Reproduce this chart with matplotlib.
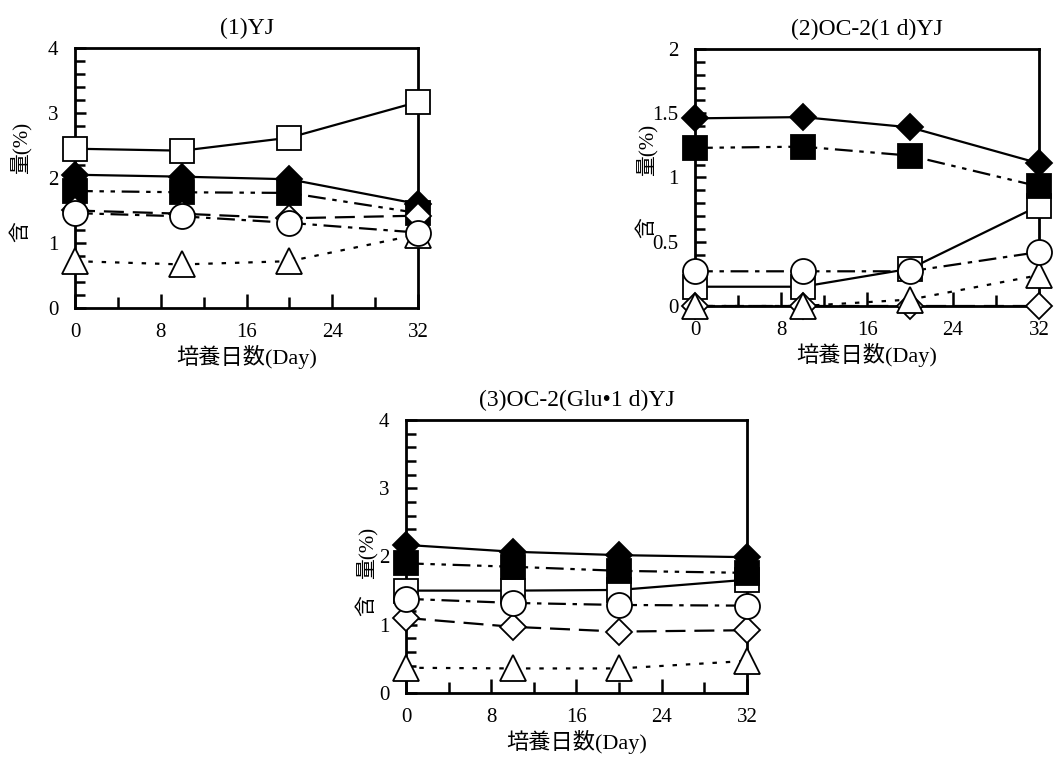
import matplotlib
matplotlib.use("Agg")
import matplotlib.pyplot as plt
from matplotlib.ticker import MultipleLocator, FixedLocator

plt.rcParams['font.family'] = ['Liberation Serif', 'Noto Sans CJK JP']

days = [0, 10, 20, 32]

# Panel 1: (1)YJ
p1_open_square = [2.45, 2.42, 2.62, 3.17]
p1_filled_diamond = [2.05, 2.02, 1.98, 1.60]
p1_filled_square = [1.80, 1.78, 1.77, 1.46]
p1_open_diamond = [1.50, 1.45, 1.38, 1.42]
p1_open_triangle = [0.72, 0.67, 0.72, 1.13]
p1_open_circle = [1.46, 1.41, 1.31, 1.16]

# Panel 2: (2)OC-2(1 d)YJ
p2_open_square = [0.15, 0.15, 0.29, 0.78]
p2_filled_diamond = [1.46, 1.47, 1.39, 1.11]
p2_filled_square = [1.23, 1.24, 1.17, 0.93]
p2_open_diamond = [0.0, 0.0, 0.0, 0.0]
p2_open_triangle = [0.0, 0.0, 0.05, 0.24]
p2_open_circle = [0.27, 0.27, 0.27, 0.42]

# Panel 3: (3)OC-2(Glu・1 d)YJ
p3_open_square = [1.50, 1.50, 1.51, 1.66]
p3_filled_diamond = [2.17, 2.07, 2.02, 1.99]
p3_filled_square = [1.90, 1.85, 1.79, 1.76]
p3_open_diamond = [1.10, 0.97, 0.90, 0.92]
p3_open_triangle = [0.37, 0.36, 0.36, 0.47]
p3_open_circle = [1.38, 1.32, 1.29, 1.28]

titles = ["(1)YJ", "(2)OC-2(1 d)YJ", "(3)OC-2(Glu•1 d)YJ"]
xlabel = "培養日数(Day)"
x_ticks = [0, 8, 16, 24, 32]
y_ticks_4 = [0, 1, 2, 3, 4]
y_ticks_2 = [0, 0.5, 1, 1.5, 2]
y_labels_4 = ['0', '1', '2', '3', '4']
y_labels_2 = ['0', '0.5', '1', '1.5', '2']

# style per series: marker, facecolor, linestyle, markersize
styles = {
    'open_square': ('s', 'white', '-', 17),
    'filled_diamond': ('D', 'black', '-', 13),
    'filled_square': ('s', 'black', (0, (8, 3, 2, 3, 2, 3)), 17),
    'open_diamond': ('D', 'white', (0, (9, 4)), 13),
    'open_triangle': ('^', 'white', (0, (2, 4)), 19),
    'open_circle': ('o', 'white', (0, (8, 3, 2, 3)), 18),
}
order = ['open_square', 'filled_diamond', 'filled_square', 'open_diamond', 'open_triangle', 'open_circle']

panels = [
    dict(pos=[0.0711, 0.5974, 0.3251, 0.3399], ymax=4, minor=0.2,
         yticks=y_ticks_4, yticklabels=y_labels_4,
         data=dict(open_square=p1_open_square, filled_diamond=p1_filled_diamond,
                   filled_square=p1_filled_square, open_diamond=p1_open_diamond,
                   open_triangle=p1_open_triangle, open_circle=p1_open_circle)),
    dict(pos=[0.6588, 0.6000, 0.3261, 0.3360], ymax=2, minor=0.1,
         yticks=y_ticks_2, yticklabels=y_labels_2,
         data=dict(open_square=p2_open_square, filled_diamond=p2_filled_diamond,
                   filled_square=p2_filled_square, open_diamond=p2_open_diamond,
                   open_triangle=p2_open_triangle, open_circle=p2_open_circle)),
    dict(pos=[0.3848, 0.0941, 0.3232, 0.3569], ymax=4, minor=0.2,
         yticks=y_ticks_4, yticklabels=y_labels_4,
         data=dict(open_square=p3_open_square, filled_diamond=p3_filled_diamond,
                   filled_square=p3_filled_square, open_diamond=p3_open_diamond,
                   open_triangle=p3_open_triangle, open_circle=p3_open_circle)),
]

fig = plt.figure(figsize=(10.55, 7.65), dpi=100)

for i, p in enumerate(panels):
    ax = fig.add_axes(p['pos'])
    ax.set_xlim(0, 32)
    ax.set_ylim(0, p['ymax'])
    for name in order:
        m, fc, ls, ms = styles[name]
        ax.plot(days, p['data'][name], color='black', linestyle=ls, linewidth=1.6,
                zorder=2, clip_on=False)
    for k, name in enumerate(order):
        m, fc, ls, ms = styles[name]
        ax.plot(days, p['data'][name], linestyle='none', marker=m, markersize=ms,
                markerfacecolor=fc, markeredgecolor='black', markeredgewidth=1.3,
                zorder=3 + k, clip_on=False)
    ax.xaxis.set_major_locator(FixedLocator(x_ticks))
    ax.xaxis.set_minor_locator(MultipleLocator(4))
    ax.set_xticklabels([str(t) for t in x_ticks])
    ax.yaxis.set_major_locator(FixedLocator(p['yticks']))
    ax.yaxis.set_minor_locator(MultipleLocator(p['minor']))
    ax.set_yticklabels(p['yticklabels'])
    ax.tick_params(axis='both', which='both', direction='in', width=1.8, labelsize=15,
                   top=False, right=False)
    ax.tick_params(axis='y', which='major', length=8, pad=12)
    ax.tick_params(axis='y', which='minor', length=7)
    ax.tick_params(axis='x', which='major', length=10, pad=11)
    ax.tick_params(axis='x', which='minor', length=8)
    for s in ax.spines.values():
        s.set_linewidth(2.0)
        s.set_zorder(2.5)
    ax.set_title(titles[i], fontsize=17, pad=10)
    ax.set_xlabel(xlabel, fontsize=16, labelpad=2)

# y-axis labels: "含" and "量(%)" rotated
ylab = [(22, 232, 148), (648, 228, 150), (368, 606, 553)]
for x, yh, yr in ylab:
    fig.text(x / 1055, 1 - yh / 765, "含", rotation=90, ha='center', va='center', fontsize=15)
    fig.text(x / 1055, 1 - yr / 765, "量(%)", rotation=90, ha='center', va='center', fontsize=15)

fig.savefig("out.png", dpi=100)
